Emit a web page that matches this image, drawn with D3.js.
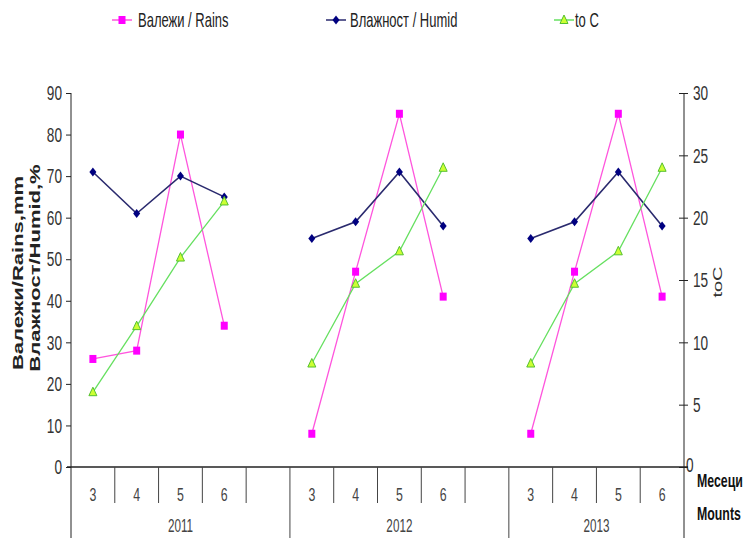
<!DOCTYPE html>
<html>
<head>
<meta charset="utf-8">
<script src="https://cdn.jsdelivr.net/npm/d3@7/dist/d3.min.js"></script>
<style>
  body { margin: 0; background: #fff; }
  svg { display: block; }
  text { font-family: "Liberation Sans", Arial, sans-serif; }
</style>
</head>
<body>
<script>
// ---- data ----
const years = ["2011", "2012", "2013"];
const months = ["3", "4", "5", "6"];
const rains = [[26, 28, 80, 34], [8, 47, 85, 41], [8, 47, 85, 41]];   // mm, left axis
const humid = [[71, 61, 70, 65], [55, 59, 71, 58], [55, 59, 71, 58]]; // %, left axis
const temp  = [[6, 11.3, 16.8, 21.3], [8.3, 14.7, 17.3, 24], [8.3, 14.7, 17.3, 24]]; // °C, right axis
const leftTicks = [0, 10, 20, 30, 40, 50, 60, 70, 80, 90];
const rightTicks = [0, 5, 10, 15, 20, 25, 30];
const seriesNames = ["Валежи / Rains", "Влажност / Humid", "to C"];

const W = 748, H = 538;
const SX = 0.65; // horizontal condensing of the lettering

const svg = d3.select("body").append("svg").attr("width", W).attr("height", H);

// category slots: four months per year, with an empty slot between years
const slots = [];
years.forEach((yr, i) => {
  months.forEach(m => slots.push({ year: yr, month: m, key: yr + "-" + m }));
  if (i < years.length - 1) slots.push({ year: yr, month: null, key: yr + "-gap" });
});

const x = d3.scaleBand().domain(slots.map(s => s.key)).range([71, 684]).padding(0);
const bw = x.bandwidth();
const cx = key => x(key) + bw / 2;
const yL = d3.scaleLinear().domain([0, 90]).range([467, 93]);
const yR = d3.scaleLinear().domain([0, 30]).range([467, 93]);
const bottom = yL(0);

// condense a text horizontally around its anchor
function squeeze(sel, sx) {
  sel.each(function () {
    const t = d3.select(this);
    const ax = +t.attr("x") || 0, ay = +t.attr("y") || 0;
    t.attr("transform", `translate(${ax},${ay}) scale(${sx},1) translate(${-ax},${-ay})`);
  });
}

// ---- axes ----
const axisColor = "#222";
const labelColor = "#333";

const gL = svg.append("g").attr("transform", `translate(${x.range()[0]},0)`)
  .call(d3.axisLeft(yL).tickValues(leftTicks).tickSize(5).tickPadding(4).tickSizeOuter(0));
gL.select(".domain").remove();
gL.selectAll(".tick line").attr("stroke", axisColor);
gL.selectAll(".tick text").attr("font-size", 21).attr("fill", labelColor)
  .attr("font-family", "Liberation Sans, Arial, sans-serif").call(squeeze, SX);

const gR = svg.append("g").attr("transform", `translate(${x.range()[1]},0)`)
  .call(d3.axisRight(yR).tickValues(rightTicks).tickSize(4).tickPadding(5).tickSizeOuter(0));
gR.select(".domain").remove();
gR.selectAll(".tick line").attr("x1", -5).attr("stroke", axisColor);
gR.selectAll(".tick").filter(d => d === 0).select("text").attr("x", 2).attr("dy", "0.2em");
gR.selectAll(".tick text").attr("font-size", 21).attr("fill", labelColor)
  .attr("font-family", "Liberation Sans, Arial, sans-serif").call(squeeze, SX);

// vertical axis lines, running down through the category table
svg.append("line").attr("x1", x.range()[0]).attr("x2", x.range()[0])
  .attr("y1", yL(90)).attr("y2", H).attr("stroke", axisColor);
svg.append("line").attr("x1", x.range()[1]).attr("x2", x.range()[1])
  .attr("y1", yR(30)).attr("y2", H).attr("stroke", axisColor);

// horizontal base line
svg.append("line").attr("x1", x.range()[0] - 4).attr("x2", x.range()[1] + 4)
  .attr("y1", bottom).attr("y2", bottom).attr("stroke", axisColor).attr("stroke-width", 1.4);

// category separators: short between months, full height between years
slots.forEach((s, i) => {
  if (i === 0) return;
  const xb = x(s.key);
  const yearBreak = s.year !== slots[i - 1].year;
  svg.append("line").attr("x1", xb).attr("x2", xb)
    .attr("y1", bottom).attr("y2", yearBreak ? H : 503)
    .attr("stroke", "#444").attr("stroke-width", 1);
});

// month labels
svg.append("g").selectAll("text").data(slots.filter(s => s.month)).join("text")
  .attr("x", d => cx(d.key)).attr("y", 494).attr("dy", "0.35em")
  .attr("text-anchor", "middle").attr("font-size", 19).attr("fill", "#444")
  .text(d => d.month).call(squeeze, SX);

// year labels, centred on each year's group of slots
svg.append("g").selectAll("text").data(years).join("text")
  .attr("x", yr => {
    const ks = slots.filter(s => s.year === yr);
    return (x(ks[0].key) + x(ks[ks.length - 1].key) + bw) / 2;
  })
  .attr("y", 526).attr("dy", "0.35em")
  .attr("text-anchor", "middle").attr("font-size", 18).attr("fill", "#444")
  .text(yr => yr).call(squeeze, SX);

// axis titles
const yTitle = svg.append("g").attr("font-weight", "bold").attr("font-size", 22).attr("fill", "#222");
[["Валежи/Rains,mm", 23, 273], ["Влажност/Humid,%", 40, 268]].forEach(([t, px, py]) => {
  yTitle.append("text").attr("text-anchor", "middle")
    .attr("transform", `translate(${px},${py}) scale(${SX},1) rotate(-90)`).text(t);
});
svg.append("text").attr("text-anchor", "middle").attr("font-size", 20).attr("fill", "#333")
  .attr("transform", `translate(722,282) scale(${SX},1) rotate(-90)`).text("toC");

svg.append("g").attr("font-weight", "bold").attr("font-size", 19).attr("fill", "#111")
  .selectAll("text").data(["Месеци", "Mounts"]).join("text")
  .attr("x", 697).attr("y", (d, i) => i === 0 ? 487 : 520).text(d => d)
  .call(squeeze, SX);

// ---- series ----
const styles = [
  { name: seriesNames[0], data: rains, scale: yL, line: "#ff55dd", lw: 1.3, marker: "square", fill: "#ff00ff", stroke: "#ff00ff" },
  { name: seriesNames[1], data: humid, scale: yL, line: "#2a2a6e", lw: 1.6, marker: "diamond", fill: "#000080", stroke: "#000080" },
  { name: seriesNames[2], data: temp, scale: yR, line: "#66e060", lw: 1.3, marker: "triangle", fill: "#ccff33", stroke: "#55c030" }
];

function drawMarker(g, kind, px, py, st) {
  if (kind === "square") {
    g.append("rect").attr("x", px - 3.5).attr("y", py - 4).attr("width", 7).attr("height", 8)
      .attr("fill", st.fill);
  } else if (kind === "diamond") {
    g.append("path").attr("d", `M${px},${py - 4.5}L${px + 3.5},${py}L${px},${py + 4.5}L${px - 3.5},${py}Z`)
      .attr("fill", st.fill);
  } else {
    g.append("path").attr("d", `M${px},${py - 5}L${px + 4},${py + 3.5}L${px - 4},${py + 3.5}Z`)
      .attr("fill", st.fill).attr("stroke", st.stroke).attr("stroke-width", 1);
  }
}

const plot = svg.append("g");
styles.forEach(st => {
  const g = plot.append("g");
  years.forEach((yr, yi) => {
    const pts = months.map((m, mi) => [cx(yr + "-" + m), st.scale(st.data[yi][mi])]);
    g.append("path").attr("d", d3.line()(pts)).attr("fill", "none")
      .attr("stroke", st.line).attr("stroke-width", st.lw);
    pts.forEach(p => drawMarker(g, st.marker, p[0], p[1], st));
  });
});

// ---- legend ----
const legendPos = [[112, 138], [326, 350], [554, 575]];
styles.forEach((st, i) => {
  const [lx, tx] = legendPos[i];
  const g = svg.append("g");
  g.append("line").attr("x1", lx).attr("x2", lx + 20).attr("y1", 20).attr("y2", 20)
    .attr("stroke", st.line).attr("stroke-width", 1.5);
  drawMarker(g, st.marker, lx + 10, 20, st);
  g.append("text").attr("x", tx).attr("y", 20).attr("dy", "0.35em")
    .attr("font-size", 20).attr("fill", "#222").text(st.name).call(squeeze, SX);
});
</script>
</body>
</html>
